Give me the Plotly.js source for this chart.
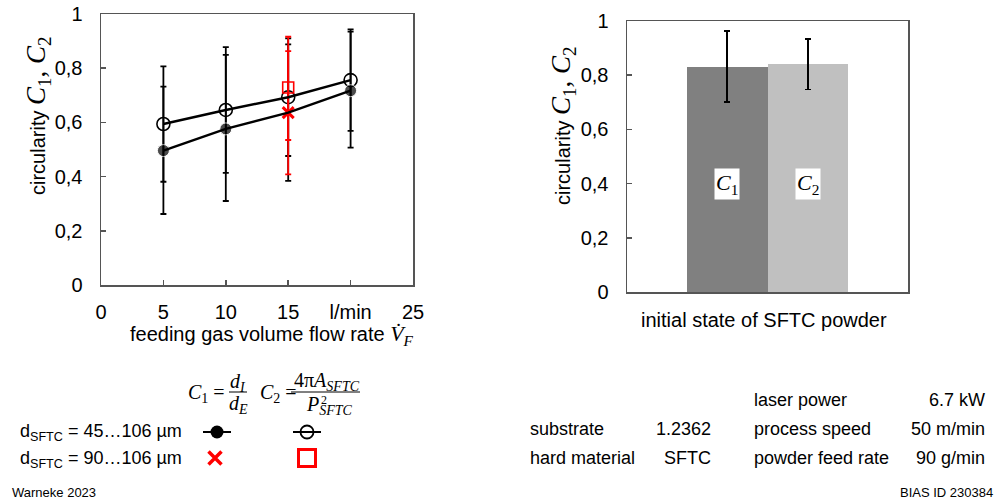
<!DOCTYPE html>
<html><head><meta charset="utf-8">
<script src="https://cdn.plot.ly/plotly-3.0.1.min.js"></script>
<style>html,body{margin:0;padding:0;background:#fff}#chart{width:997px;height:502px}</style>
</head><body><div id="chart"></div>
<script>
// ---------- data ----------
const flowRate = [5, 10, 15, 20];
const c1Fine = [0.496, 0.576, 0.636, 0.717];
const c1FinePlus = [0.236, 0.273, 0.252, 0.218];
const c1FineMinus = [0.234, 0.266, 0.252, 0.210];
const c2Fine = [0.594, 0.646, 0.693, 0.756];
const c2FinePlus = [0.213, 0.232, 0.217, 0.187];
const c2FineMinus = [0.213, 0.232, 0.217, 0.187];
const flowRateCoarse = [15];
const c1Coarse = [0.636];
const c1CoarsePlus = [0.227];
const c1CoarseMinus = [0.228];
const c2Coarse = [0.729];
const c2CoarsePlus = [0.187];
const c2CoarseMinus = [0.194];
const powderState = ['C1', 'C2'];
const powderCirc = [0.831, 0.841];
const powderPlus = [0.132, 0.093];
const powderMinus = [0.129, 0.094];
const yTickVals = [0, 0.2, 0.4, 0.6, 0.8, 1];
const yTickText = ['0', '0,2', '0,4', '0,6', '0,8', '1'];
const xTickVals = [0, 5, 10, 15, 20, 25];
const xTickText = ['0', '5', '10', '15', 'l/min', '25'];
const paramLabelsLeft = ['substrate', 'hard material'];
const paramValuesLeft = ['1.2362', 'SFTC'];
const paramLabelsRight = ['laser power', 'process speed', 'powder feed rate'];
const paramValuesRight = ['6.7 kW', '50 m/min', '90 g/min'];
const rowLabels = ['d<sub>SFTC</sub> = 45…106 µm', 'd<sub>SFTC</sub> = 90…106 µm'];

// ---------- helpers ----------
const W = 997, H = 502;
const px = x => x / W;
const py = y => 1 - y / H;
const SANS = 'Liberation Sans, Arial, sans-serif';
const SERIF = 'Liberation Serif, Times New Roman, serif';
const AX = '#555555';
const RED = '#ff0000';

function ebar(plus, minus, color) {
  return {type: 'data', symmetric: false, array: plus, arrayminus: minus,
          color: color, thickness: 1.8, width: 3};
}

const traces = [
  {x: flowRate, y: c2Fine, xaxis: 'x', yaxis: 'y', mode: 'markers', type: 'scatter',
   marker: {symbol: 'circle-open', size: 13, color: '#000', line: {width: 1.6, color: '#000'}},
   error_y: ebar(c2FinePlus, c2FineMinus, '#000'), showlegend: false, hoverinfo: 'skip'},
  {x: flowRate, y: c1Fine, xaxis: 'x', yaxis: 'y', mode: 'markers', type: 'scatter',
   marker: {symbol: 'circle', size: [12, 12, 0, 12], color: '#000'},
   error_y: ebar(c1FinePlus, c1FineMinus, '#000'), showlegend: false, hoverinfo: 'skip'},
  {x: flowRateCoarse, y: c2Coarse, xaxis: 'x', yaxis: 'y', mode: 'markers', type: 'scatter',
   marker: {symbol: 'square-open', size: 11, color: RED, line: {width: 1.6, color: RED}},
   error_y: ebar(c2CoarsePlus, c2CoarseMinus, RED), showlegend: false, hoverinfo: 'skip'},
  {x: flowRateCoarse, y: c1Coarse, xaxis: 'x', yaxis: 'y', mode: 'markers', type: 'scatter',
   marker: {symbol: 'x-thin', size: 11, color: RED, line: {width: 3, color: RED}},
   error_y: ebar(c1CoarsePlus, c1CoarseMinus, RED), showlegend: false, hoverinfo: 'skip'},
  {x: flowRate, y: c2Fine, xaxis: 'x', yaxis: 'y', mode: 'lines', type: 'scatter',
   line: {color: '#000', width: 2.5}, showlegend: false, hoverinfo: 'skip'},
  {x: flowRate, y: c1Fine, xaxis: 'x', yaxis: 'y', mode: 'lines', type: 'scatter',
   line: {color: '#000', width: 2.5}, showlegend: false, hoverinfo: 'skip'},
  {x: powderState, y: powderCirc, xaxis: 'x2', yaxis: 'y2', type: 'bar', width: 1,
   marker: {color: ['#808080', '#c0c0c0'], line: {width: 0}},
   error_y: {type: 'data', symmetric: false, array: powderPlus, arrayminus: powderMinus,
             color: '#000', thickness: 1.8, width: 3},
   showlegend: false, hoverinfo: 'skip'},
  {x: [203, 231], y: [432, 432], xaxis: 'x3', yaxis: 'y3', mode: 'lines', type: 'scatter',
   line: {color: '#000', width: 2}, showlegend: false, hoverinfo: 'skip'},
  {x: [217], y: [432], xaxis: 'x3', yaxis: 'y3', mode: 'markers', type: 'scatter',
   marker: {symbol: 'circle', size: 13, color: '#000'}, showlegend: false, hoverinfo: 'skip'},
  {x: [293, 321], y: [432, 432], xaxis: 'x3', yaxis: 'y3', mode: 'lines', type: 'scatter',
   line: {color: '#000', width: 2}, showlegend: false, hoverinfo: 'skip'},
  {x: [307], y: [432], xaxis: 'x3', yaxis: 'y3', mode: 'markers', type: 'scatter',
   marker: {symbol: 'circle-open', size: 13, color: '#000', line: {width: 1.8, color: '#000'}},
   showlegend: false, hoverinfo: 'skip'},
  {x: [215], y: [458], xaxis: 'x3', yaxis: 'y3', mode: 'markers', type: 'scatter',
   marker: {symbol: 'x-thin', size: 13, color: RED, line: {width: 3.5, color: RED}},
   showlegend: false, hoverinfo: 'skip'},
  {x: [307], y: [458], xaxis: 'x3', yaxis: 'y3', mode: 'markers', type: 'scatter',
   marker: {symbol: 'square-open', size: 17, color: RED, line: {width: 3, color: RED}},
   showlegend: false, hoverinfo: 'skip'}
];

const axisCommon = {
  showline: true, linecolor: AX, linewidth: 1.5, mirror: true,
  ticks: 'inside', ticklen: 5, tickwidth: 1.5, tickcolor: AX,
  showgrid: false, zeroline: false, fixedrange: true,
  tickfont: {family: SANS, size: 20, color: '#000'}
};

const ann = [];
function addText(x, y, text, opts) {
  ann.push(Object.assign({xref: 'paper', yref: 'paper', x: px(x), y: py(y), text: text,
    showarrow: false, xanchor: 'left', yanchor: 'middle',
    font: {family: SANS, size: 18, color: '#000'}}, opts || {}));
}
const cText = '<span style="font-family:Liberation Serif;font-size:27px"><i>C</i><sub>1</sub>, <i>C</i><sub>2</sub></span>';
addText(38, 116, 'circularity ' + cText, {textangle: -90, xanchor: 'center', font: {family: SANS, size: 20, color: '#000'}});
addText(563, 126, 'circularity ' + cText, {textangle: -90, xanchor: 'center', font: {family: SANS, size: 20, color: '#000'}});
addText(272, 335, 'feeding gas volume flow rate <span style="font-family:Liberation Serif;font-size:22px"><i>V\u0307</i><sub><i>F</i></sub></span>', {xanchor: 'center', font: {family: SANS, size: 20, color: '#000'}});
addText(764, 320, 'initial state of SFTC powder', {xanchor: 'center', font: {family: SANS, size: 20, color: '#000'}});
['<i>C</i><sub>1</sub>', '<i>C</i><sub>2</sub>'].forEach((t, i) => {
  ann.push({xref: 'x2', yref: 'y2', x: powderState[i], y: 0.4, text: t, showarrow: false,
    bgcolor: '#fff', borderpad: 1, xanchor: 'center', yanchor: 'middle',
    font: {family: SERIF, size: 22, color: '#000'}});
});
const FS = {family: SERIF, size: 20, color: '#000'};
addText(186, 393, '<i>C</i><sub>1</sub> =', {font: FS});
addText(238, 382, '<i>d<sub>I</sub></i>', {font: FS, xanchor: 'center'});
addText(238, 404, '<i>d<sub>E</sub></i>', {font: FS, xanchor: 'center'});
addText(258, 393, '<i>C</i><sub>2</sub> =', {font: FS});
addText(327, 381, '4π<i>A<sub>SFTC</sub></i>', {font: FS, xanchor: 'center'});
addText(329, 405, '<i>P<sub>SFTC</sub></i>', {font: FS, xanchor: 'center'});
addText(319, 400, '2', {font: {family: SERIF, size: 12, color: '#000'}});
rowLabels.forEach((t, i) => addText(18, 432 + i * 27, t));
paramLabelsLeft.forEach((t, i) => addText(528, 429 + i * 29, t));
paramValuesLeft.forEach((t, i) => addText(713, 429 + i * 29, t, {xanchor: 'right'}));
paramLabelsRight.forEach((t, i) => addText(752, 400 + i * 29, t));
paramValuesRight.forEach((t, i) => addText(987, 400 + i * 29, t, {xanchor: 'right'}));
addText(10, 492, 'Warneke 2023', {font: {family: SANS, size: 13, color: '#000'}});
addText(995, 492, 'BIAS ID 230384', {xanchor: 'right', font: {family: SANS, size: 13, color: '#000'}});

const layout = {
  width: W, height: H, margin: {l: 0, r: 0, t: 0, b: 0},
  paper_bgcolor: '#fff', plot_bgcolor: 'rgba(0,0,0,0)',
  showlegend: false, bargap: 0,
  xaxis: Object.assign({}, axisCommon, {domain: [px(101), px(413)], range: [0, 25],
    tickvals: xTickVals, ticktext: xTickText, anchor: 'y', ticklabelstandoff: 8}),
  yaxis: Object.assign({}, axisCommon, {domain: [py(285), py(14)], range: [0, 1],
    tickvals: yTickVals, ticktext: yTickText, anchor: 'x', ticklabelstandoff: 13}),
  xaxis2: Object.assign({}, axisCommon, {domain: [px(627), px(908)], type: 'category',
    range: [-1.239, 2.239], showticklabels: false, ticks: '', anchor: 'y2'}),
  yaxis2: Object.assign({}, axisCommon, {domain: [py(292), py(21)], range: [0, 1],
    tickvals: yTickVals, ticktext: yTickText, anchor: 'x2', ticklabelstandoff: 13}),
  xaxis3: {domain: [0, 1], range: [0, W], visible: false, fixedrange: true, anchor: 'y3'},
  yaxis3: {domain: [0, 1], range: [H, 0], visible: false, fixedrange: true, anchor: 'x3'},
  annotations: ann,
  shapes: [
    {type: 'line', xref: 'paper', yref: 'paper', x0: px(229), x1: px(247), y0: py(392), y1: py(392), line: {color: '#000', width: 1}},
    {type: 'line', xref: 'paper', yref: 'paper', x0: px(291), x1: px(360), y0: py(392), y1: py(392), line: {color: '#000', width: 1}}
  ]
};

Plotly.newPlot('chart', traces, layout, {staticPlot: true, displayModeBar: false});
</script>
</body></html>
